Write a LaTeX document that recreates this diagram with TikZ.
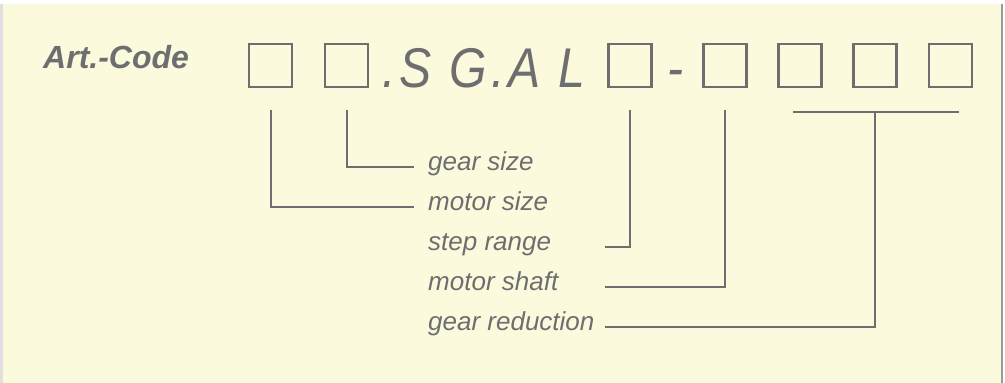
\documentclass[tikz,border=0pt]{standalone}
\usepackage{fontspec}
\setmainfont{Liberation Sans}
\newfontfamily\codefont{Liberation Sans}[FakeStretch=0.86, LetterSpace=7.5]
\usepackage{tikz}
\definecolor{panel}{RGB}{251,250,220}
\definecolor{ink}{RGB}{110,110,112}

\begin{document}
\begin{tikzpicture}[x=1pt, y=-1pt,
  digit/.style={draw=ink, line width=2.2pt, minimum size=43pt, inner sep=0pt},
  link/.style={draw=ink, line width=2pt},
  field/.style={text=ink, font=\fontsize{26}{30}\selectfont\itshape, anchor=base west, inner sep=0pt},
  code/.style={text=ink, font=\codefont\fontsize{56}{60}\selectfont\itshape, anchor=base west, inner sep=0pt}]
  \useasboundingbox (0,0) rectangle (1005,383);
  \fill[white] (0,0) rectangle (1005,383);
  \fill[panel] (3,4) rectangle (1001,383);
  \fill[black!12] (0,4) rectangle (3,383);
  \draw[ink!70, line width=2pt] (1002,4) -- (1002,383);

  \node[text=ink, font=\fontsize{32}{34}\selectfont\bfseries\itshape, anchor=base west, inner sep=0pt] (art) at (43,68) {Art.-Code};

  % the code boxes
  \node[digit] (b1) at (270.5,65.5) {};
  \node[digit] (b2) at (346.5,65.5) {};
  \node[code] (type) at (382,87) {.S G.A L};
  \node[digit] (b3) at (630,65.5) {};
  \node[code] (dash) at (667,87) {-};
  \node[digit] (b4) at (725,65.5) {};
  \node[digit] (b5) at (800,65.5) {};
  \node[digit] (b6) at (875,65.5) {};
  \node[digit] (b7) at (950.5,65.5) {};

  % the fields
  \node[field] (gsize) at (428,170) {gear size};
  \node[field] (msize) at (428,210) {motor size};
  \node[field] (srange) at (428,250) {step range};
  \node[field] (mshaft) at (428,290) {motor shaft};
  \node[field] (gred) at (428,330) {gear reduction};
  \coordinate (rx) at (605,0);

  \draw[link] ([yshift=-22pt]b1.south) |- ([xshift=-14pt]msize.mid west);
  \draw[link] ([yshift=-22pt]b2.south) |- ([xshift=-14pt]gsize.mid west);
  \draw[link] ([yshift=-22pt]b3.south) |- (rx |- srange.mid west);
  \draw[link] ([yshift=-22pt]b4.south) |- (rx |- mshaft.mid west);
  \draw[link] ([shift={(-7pt,-24pt)}]b5.south) -- ([shift={(8pt,-24pt)}]b7.south);
  \draw[link] ([yshift=-24pt]b6.south) |- (rx |- gred.mid west);
\end{tikzpicture}
\end{document}
